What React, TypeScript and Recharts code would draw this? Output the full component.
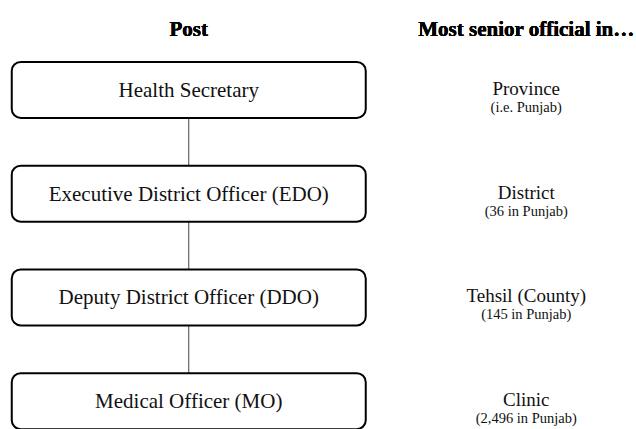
import { ScatterChart, Scatter, XAxis, YAxis } from 'recharts'

const columns = ['Post', 'Most senior official in…']
const posts = [
  'Health Secretary',
  'Executive District Officer (EDO)',
  'Deputy District Officer (DDO)',
  'Medical Officer (MO)',
]
const regions = ['Province', 'District', 'Tehsil (County)', 'Clinic']
const regionNotes = ['(i.e. Punjab)', '(36 in Punjab)', '(145 in Punjab)', '(2,496 in Punjab)']

const postData = posts.map(p => ({ col: columns[0], post: p }))
const regionData = posts.map((p, i) => ({ col: columns[1], post: p, region: regions[i], note: regionNotes[i] }))

const FONT = '"Liberation Serif", "Times New Roman", serif'
const BOX_W = 354
const BOX_H = 56

function PostBox(props: any) {
  const { cx, cy, payload } = props
  return (
    <g>
      <rect
        x={cx - BOX_W / 2}
        y={cy - BOX_H / 2}
        width={BOX_W}
        height={BOX_H}
        rx={9}
        ry={9}
        fill="#fff"
        stroke="#000"
        strokeWidth={2}
      />
      <text x={cx} y={cy + 7} textAnchor="middle" fontFamily={FONT} fontSize={21} fill="#111">
        {payload.post}
      </text>
    </g>
  )
}

function RegionLabel(props: any) {
  const { cx, cy, payload } = props
  return (
    <g>
      <text x={cx} y={cy + 5} textAnchor="middle" fontFamily={FONT} fontSize={19} fill="#111">
        {payload.region}
      </text>
      <text x={cx} y={cy + 22} textAnchor="middle" fontFamily={FONT} fontSize={14.5} fill="#111">
        {payload.note}
      </text>
    </g>
  )
}

export default function App() {
  return (
    <div style={{ position: 'absolute', left: 0, top: 0, width: 636, height: 429, overflow: 'hidden', background: '#fff' }}>
      <ScatterChart width={695} height={453} margin={{ top: 0, right: 0, bottom: 0, left: 20 }}>
        <XAxis
          dataKey="col"
          type="category"
          scale="band"
          orientation="top"
          allowDuplicatedCategory={false}
          interval={0}
          height={38}
          tickSize={0}
          tickMargin={2}
          axisLine={false}
          tickLine={false}
          tick={{ fontSize: 21, fontWeight: 'bold', fill: '#000', fontFamily: FONT }}
        />
        <YAxis
          dataKey="post"
          type="category"
          scale="band"
          allowDuplicatedCategory={false}
          reversed
          hide
        />
        <Scatter
          data={postData}
          shape={PostBox}
          line={{ stroke: '#444', strokeWidth: 1 }}
          isAnimationActive={false}
        />
        <Scatter data={regionData} shape={RegionLabel} isAnimationActive={false} />
      </ScatterChart>
    </div>
  )
}
